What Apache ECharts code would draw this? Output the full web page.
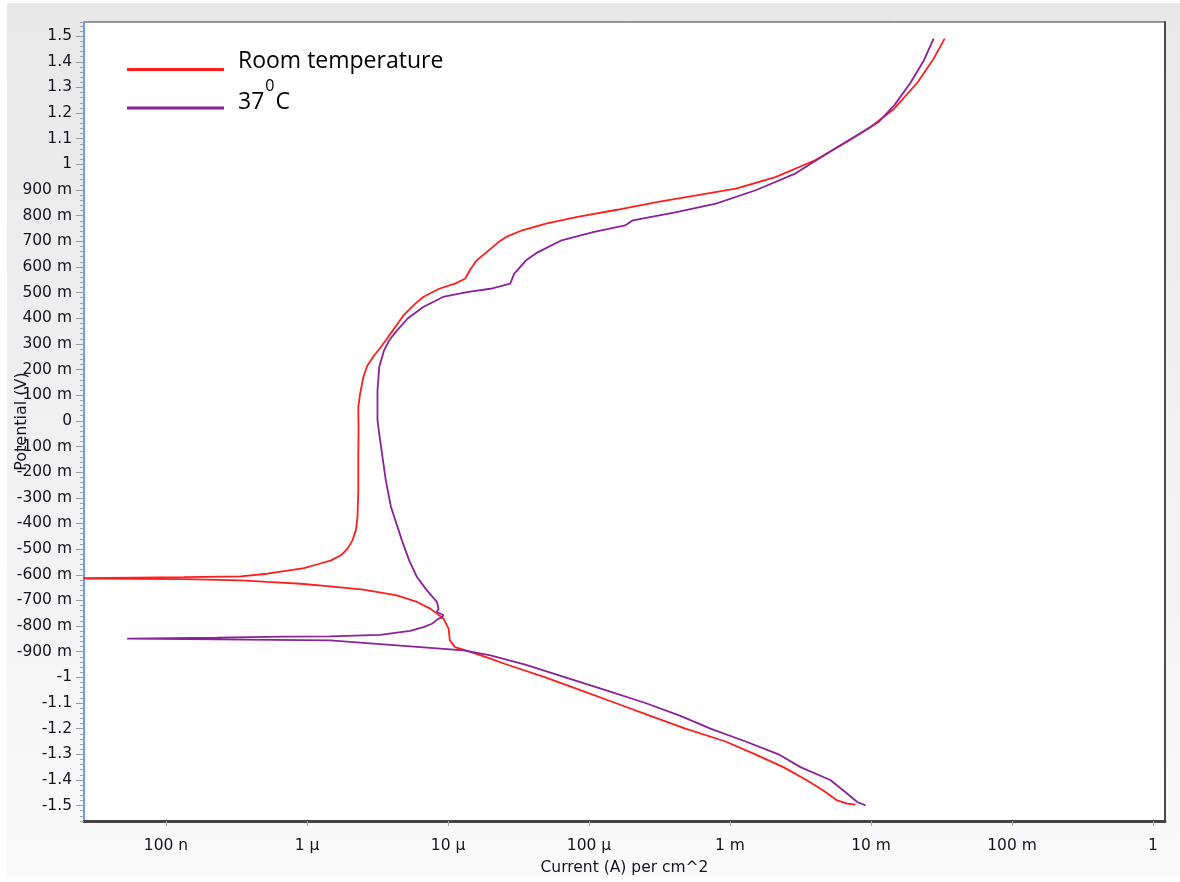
<!DOCTYPE html>
<html>
<head>
<meta charset="utf-8">
<script src="https://cdn.jsdelivr.net/npm/echarts@6/dist/echarts.min.js"></script>
<style>
  html, body { margin: 0; padding: 0; background: #fff; }
  #chart { width: 1180px; height: 882px; }
</style>
</head>
<body>
<div id="chart"></div>
<script>
// Potentiodynamic polarization scans, -1.5 V to +1.5 V (scan order)
const roomTempPotential = [
  -1.496, -1.492, -1.480, -1.441, -1.40, -1.35, -1.30, -1.25, -1.20, -1.15, -1.10, -1.05, -1.00,
  -0.947, -0.927, -0.901, -0.882, -0.856, -0.810, -0.771, -0.732, -0.706, -0.680, -0.658, -0.645,
  -0.635, -0.628, -0.622, -0.617, -0.614, -0.611, -0.609, -0.606, -0.596, -0.586, -0.574, -0.559,
  -0.544, -0.524, -0.498, -0.466, -0.427, -0.375, -0.271, -0.141, -0.037, 0.054, 0.106, 0.171,
  0.216, 0.255, 0.281, 0.314, 0.346, 0.411, 0.457, 0.483, 0.515, 0.535, 0.554, 0.593, 0.626,
  0.658, 0.697, 0.717, 0.743, 0.769, 0.795, 0.823, 0.853, 0.879, 0.905, 0.950, 1.016, 1.087,
  1.145, 1.217, 1.321, 1.412, 1.490
];
const roomTempCurrent = [
  7.76e-3, 6.77e-3, 5.75e-3, 4.59e-3, 3.48e-3, 2.39e-3, 1.51e-3, 9.28e-4, 4.82e-4, 2.72e-4, 1.54e-4, 8.68e-5, 4.90e-5,
  2.51e-5, 2.00e-5, 1.44e-5, 1.12e-5, 1.03e-5, 1.01e-5, 9.29e-6, 7.48e-6, 6.02e-6, 4.34e-6, 2.51e-6, 1.46e-6,
  9.03e-7, 5.24e-7, 3.39e-7, 1.34e-7, 1.5e-8, 1.5e-8, 1.34e-7, 3.39e-7, 5.24e-7, 6.87e-7, 9.53e-7, 1.19e-6,
  1.48e-6, 1.74e-6, 1.94e-6, 2.10e-6, 2.22e-6, 2.28e-6, 2.31e-6, 2.31e-6, 2.32e-6, 2.31e-6, 2.38e-6, 2.51e-6,
  2.68e-6, 2.99e-6, 3.27e-6, 3.62e-6, 3.98e-6, 4.83e-6, 5.86e-6, 6.67e-6, 8.65e-6, 1.12e-5, 1.32e-5, 1.45e-5, 1.60e-5,
  1.88e-5, 2.28e-5, 2.59e-5, 3.36e-5, 4.95e-5, 8.28e-5, 1.58e-4, 3.02e-4, 5.77e-4, 1.10e-3, 2.10e-3, 4.01e-3, 6.72e-3,
  9.89e-3, 1.46e-2, 2.15e-2, 2.78e-2, 3.33e-2
];

const bodyTempPotential = [
  -1.499, -1.486, -1.448, -1.40, -1.35, -1.30, -1.25, -1.20, -1.15, -1.10, -1.05, -1.00, -0.95,
  -0.914, -0.895, -0.875, -0.856, -0.852, -0.849, -0.845, -0.841, -0.840, -0.834, -0.819, -0.804,
  -0.791, -0.771, -0.767, -0.758, -0.745, -0.732, -0.706, -0.661, -0.609, -0.544, -0.466, -0.336,
  -0.232, -0.141, -0.050, 0.002, 0.119, 0.210, 0.275, 0.314, 0.346, 0.398, 0.444, 0.483, 0.502,
  0.515, 0.535, 0.574, 0.626, 0.658, 0.704, 0.736, 0.762, 0.782, 0.814, 0.847, 0.899, 0.964,
  1.061, 1.126, 1.165, 1.230, 1.315, 1.405, 1.490
];
const bodyTempCurrent = [
  9.14e-3, 7.98e-3, 6.59e-3, 5.14e-3, 3.16e-3, 2.21e-3, 1.29e-3, 7.26e-4, 4.45e-4, 2.51e-4, 1.31e-4, 6.79e-5, 3.53e-5,
  2.00e-5, 1.29e-5, 4.34e-6, 1.46e-6, 2.31e-7, 5.3e-8, 2.31e-7, 6.87e-7, 1.46e-6, 3.30e-6, 5.39e-6, 6.70e-6,
  7.69e-6, 8.57e-6, 9.06e-6, 9.29e-6, 8.34e-6, 8.57e-6, 8.34e-6, 7.08e-6, 6.02e-6, 5.30e-6, 4.71e-6, 3.94e-6,
  3.62e-6, 3.43e-6, 3.25e-6, 3.16e-6, 3.16e-6, 3.25e-6, 3.52e-6, 3.83e-6, 4.25e-6, 5.15e-6, 6.67e-6, 9.21e-6, 1.36e-5,
  2.00e-5, 2.76e-5, 2.95e-5, 3.58e-5, 4.35e-5, 6.40e-5, 1.07e-4, 1.80e-4, 2.05e-4, 4.17e-4, 7.95e-4, 1.52e-3, 2.90e-3,
  5.53e-3, 8.69e-3, 1.13e-2, 1.46e-2, 1.89e-2, 2.37e-2, 2.78e-2
];

// Axis ticks
const potentialTicks = [
  -1.5, -1.4, -1.3, -1.2, -1.1, -1.0, -0.9, -0.8, -0.7, -0.6, -0.5, -0.4, -0.3, -0.2, -0.1, 0,
  0.1, 0.2, 0.3, 0.4, 0.5, 0.6, 0.7, 0.8, 0.9, 1.0, 1.1, 1.2, 1.3, 1.4, 1.5
];
const currentDecadeExponents = [-7, -6, -5, -4, -3, -2, -1, 0];
const currentTickLabels = ['100 n', '1 µ', '10 µ', '100 µ', '1 m', '10 m', '100 m', '1'];

const seriesNames = ['Room temperature', '37°C'];
const seriesColors = ['#ff1e1e', '#8a2299'];

function zip(xs, ys) { return xs.map((x, i) => [x, ys[i]]); }

function potentialLabel(v) {
  const r = Math.round(v * 1000);
  if (r === 0) return '0';
  if (Math.abs(r) >= 1000) return String(r / 1000);
  return r + ' m';
}

function currentLabel(v) {
  const e = Math.round(Math.log10(v));
  const i = currentDecadeExponents.indexOf(e);
  return i >= 0 ? currentTickLabels[i] : '';
}

const AXIS_FONT = { fontFamily: 'DejaVu Sans', fontSize: 15.5, color: '#14141e' };
const LEGEND_FONT = 'Open Sans';

const chart = echarts.init(document.getElementById('chart'), null, { renderer: 'canvas' });

chart.setOption({
  animation: false,
  backgroundColor: '#ffffff',
  graphic: [{
    type: 'rect',
    z: -10,
    silent: true,
    shape: { x: 7, y: 3, width: 1173, height: 874 },
    style: {
      fill: new echarts.graphic.LinearGradient(0, 0, 0, 1, [
        { offset: 0, color: '#e8e8e8' },
        { offset: 1, color: '#fafafa' }
      ])
    }
  }],
  grid: {
    left: 84, right: 15, top: 22, bottom: 61,
    show: true, backgroundColor: '#ffffff', borderColor: '#3a3a3a', borderWidth: 1
  },
  legend: [
    {
      left: 127, top: 50, padding: 0, selectedMode: false,
      itemWidth: 97, itemHeight: 3,
      data: [{ name: seriesNames[0], icon: 'rect' }],
      formatter: '{r|{name}}',
      textStyle: {
        rich: { r: { fontFamily: LEGEND_FONT, fontSize: 23, color: '#000', padding: [0, 0, 16, 9] } }
      }
    },
    {
      left: 127, top: 78, padding: 0, selectedMode: false,
      itemWidth: 97, itemHeight: 3,
      data: [{ name: seriesNames[1], icon: 'rect' }],
      formatter: () => '{a|37}{s|0}{n|C}',
      textStyle: {
        rich: {
          a: { fontFamily: LEGEND_FONT, fontSize: 23, color: '#000', padding: [0, 0, 24, 9], verticalAlign: 'bottom' },
          s: { fontFamily: LEGEND_FONT, fontSize: 16, color: '#000', padding: [0, 1, 44, 1], verticalAlign: 'bottom' },
          n: { fontFamily: LEGEND_FONT, fontSize: 23, color: '#000', padding: [0, 0, 24, 0], verticalAlign: 'bottom' }
        }
      }
    }
  ],
  xAxis: {
    type: 'log',
    logBase: 10,
    min: 2.62e-8,
    max: 1.216,
    name: 'Current (A) per cm^2',
    nameLocation: 'middle',
    nameGap: 39,
    nameTextStyle: AXIS_FONT,
    axisLine: { show: true, onZero: false, lineStyle: { color: '#444', width: 3 } },
    axisTick: { show: true, length: 5, lineStyle: { color: '#aaa' } },
    axisLabel: {
      ...AXIS_FONT, margin: 17, showMinLabel: false, showMaxLabel: false,
      formatter: currentLabel
    },
    splitLine: { show: false },
    minorTick: { show: false }
  },
  yAxis: [
    {
      // fine 20 mV ticks and the blue axis line
      type: 'value',
      min: -1.56, max: 1.555, interval: 0.02,
      position: 'left',
      name: 'Potential (V)',
      nameLocation: 'middle',
      nameGap: 54,
      nameTextStyle: { ...AXIS_FONT, fontSize: 16 },
      axisLine: { show: true, onZero: false, lineStyle: { color: '#6d9bf0', width: 2 } },
      axisTick: { show: true, length: 4, lineStyle: { color: '#a0a0a0' } },
      axisLabel: { show: false },
      splitLine: { show: false }
    },
    {
      // labelled 100 mV ticks
      type: 'value',
      min: -1.56, max: 1.555,
      position: 'left',
      axisLine: { show: false, onZero: false },
      axisTick: { show: true, length: 8, customValues: potentialTicks, lineStyle: { color: '#9a9a9a' } },
      axisLabel: { ...AXIS_FONT, margin: 12, customValues: potentialTicks, formatter: potentialLabel },
      splitLine: { show: false }
    },
    {
      // right frame edge
      type: 'value',
      min: -1.56, max: 1.555,
      position: 'right',
      axisLine: { show: true, onZero: false, lineStyle: { color: '#4a4a4a', width: 2 } },
      axisTick: { show: false },
      axisLabel: { show: false },
      splitLine: { show: false }
    }
  ],
  series: [
    {
      name: seriesNames[0],
      type: 'line',
      yAxisIndex: 0,
      symbol: 'none',
      color: seriesColors[0],
      lineStyle: { width: 1.8, color: seriesColors[0] },
      data: zip(roomTempCurrent, roomTempPotential)
    },
    {
      name: seriesNames[1],
      type: 'line',
      yAxisIndex: 0,
      symbol: 'none',
      color: seriesColors[1],
      lineStyle: { width: 1.8, color: seriesColors[1] },
      data: zip(bodyTempCurrent, bodyTempPotential)
    }
  ]
});
</script>
</body>
</html>
